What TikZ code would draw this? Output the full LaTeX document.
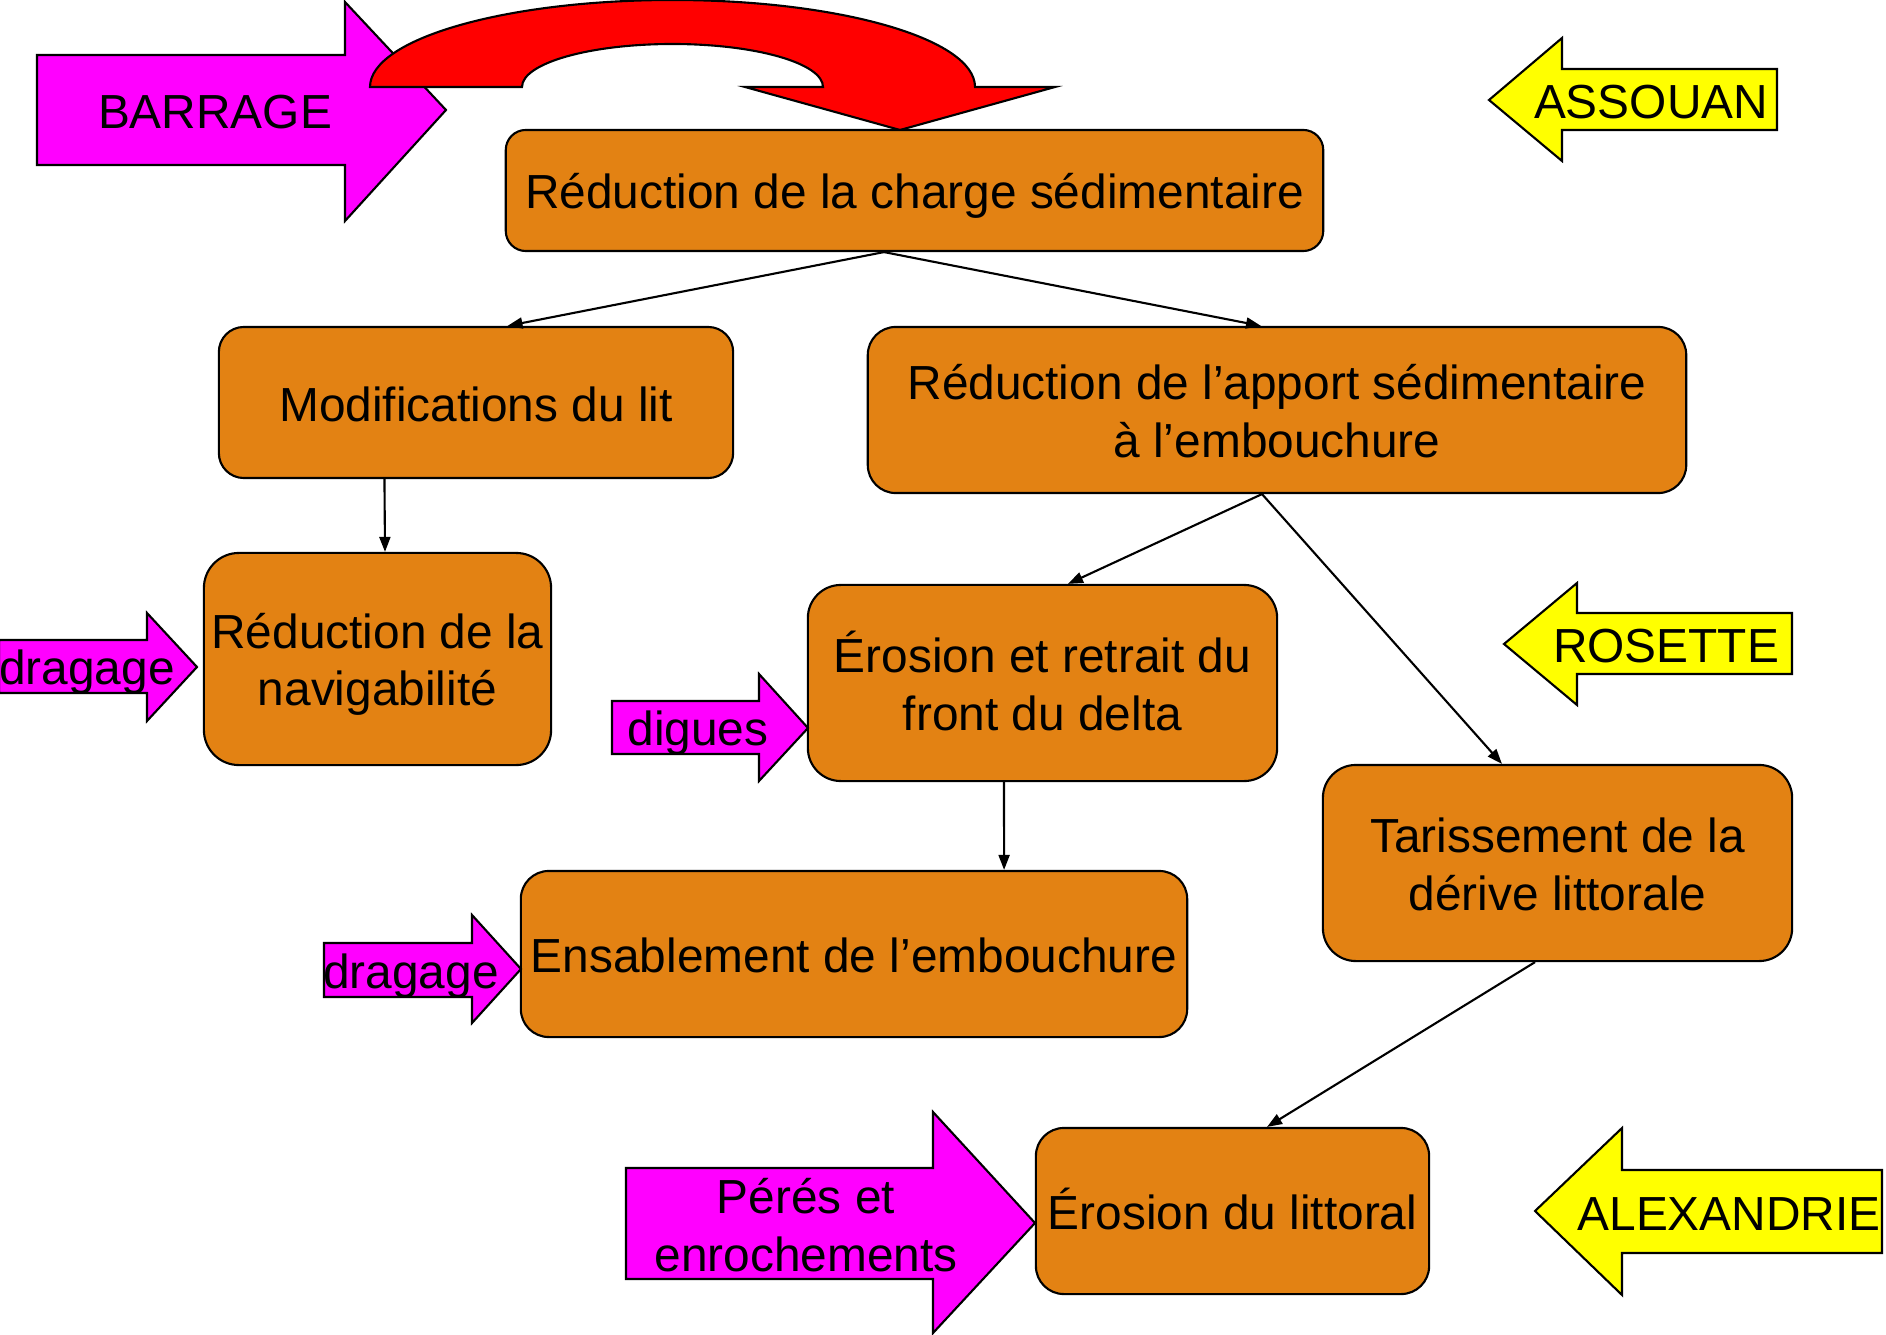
\documentclass[tikz,border=0pt]{standalone}
\usepackage{fontspec}
\setmainfont{Liberation Sans}
\usetikzlibrary{arrows.meta}

\definecolor{orangeboite}{RGB}{227,130,19}
\definecolor{rose}{RGB}{255,0,255}
\definecolor{jaune}{RGB}{255,255,0}
\newcommand{\haut}{\rule[-0.18em]{0pt}{1.14em}}

\tikzstyle{etape} = [draw=black, fill=orangeboite, line width=0.6pt,
    align=center, inner sep=0pt, font=\fontsize{13.6}{16.4}\selectfont]
\tikzstyle{etiquette} = [inner sep=0pt, align=center, font=\fontsize{13.6}{16.4}\selectfont]
\tikzstyle{fleche} = [draw=black, fill=rose, line width=0.6pt]
\tikzstyle{ville} = [draw=black, fill=jaune, line width=0.6pt]
\tikzstyle{lien} = [-{Triangle[length=1.5mm,width=1.1mm]}, line width=0.6pt]

\begin{document}
\begin{tikzpicture}[x=0.01cm, y=-0.01cm]
\useasboundingbox (0,0) rectangle (1886,1334);

\draw[fleche] (37,55) -- (345,55) -- (345,2) -- (446,110) -- (345,221) -- (345,165) -- (37,165) -- cycle;
\node[etiquette] (barrage) at (215,110) {\haut BARRAGE};
\draw[draw=black, fill=red, line width=0.6pt] (370,87)
    arc[start angle=180, end angle=360, x radius=302.5, y radius=87]
    -- (1055,87) -- (900,130) -- (745,87) -- (823,87)
    arc[start angle=360, end angle=180, x radius=150.5, y radius=43] -- cycle;

\node[etape, minimum width=8.17cm, minimum height=1.21cm, rounded corners=0.2cm] (charge) at (914.5,190.5)
    {\haut Réduction de la charge sédimentaire};
\node[etape, minimum width=5.14cm, minimum height=1.51cm, rounded corners=0.25cm] (lit) at (476,402.5)
    {\haut Modifications du lit};
\node[etape, minimum width=8.18cm, minimum height=1.66cm, rounded corners=0.28cm] (apport) at (1277,410)
    {\haut Réduction de l’apport sédimentaire\\ à l’embouchure\haut};
\node[etape, minimum width=3.47cm, minimum height=2.12cm, rounded corners=0.35cm] (navig) at (377.5,659)
    {\haut Réduction de la\\ navigabilité\haut};
\node[etape, minimum width=4.69cm, minimum height=1.96cm, rounded corners=0.33cm] (delta) at (1042.5,683)
    {\haut Érosion et retrait du\\ front du delta\haut};
\node[etape, minimum width=6.66cm, minimum height=1.66cm, rounded corners=0.28cm] (ensabl) at (854,954)
    {\haut Ensablement de l’embouchure};
\node[etape, minimum width=4.69cm, minimum height=1.96cm, rounded corners=0.33cm] (taris) at (1557.5,863)
    {\haut Tarissement de la\\ dérive littorale\haut};
\node[etape, minimum width=3.93cm, minimum height=1.66cm, rounded corners=0.28cm] (littoral) at (1232.5,1211)
    {\haut Érosion du littoral};

\draw[lien] ([xshift=-0.305cm]charge.south) -- ([xshift=0.315cm]lit.north);
\draw[lien] ([xshift=-0.305cm]charge.south) -- ([xshift=-0.16cm]apport.north);
\draw[lien] ([xshift=-0.915cm]lit.south) -- ([xshift=0.075cm]navig.north);
\draw[lien] ([xshift=-0.15cm]apport.south) -- ([xshift=0.255cm]delta.north);
\draw[lien] ([xshift=-0.15cm]apport.south) -- ([xshift=-0.555cm]taris.north);
\draw[lien] ([xshift=-0.385cm]delta.south) -- ([xshift=1.5cm]ensabl.north);
\draw[lien] ([xshift=-0.225cm]taris.south) -- ([xshift=0.345cm]littoral.north);

\draw[fleche] (-1,640) -- (147,640) -- (147,613) -- (197,667) -- (147,721) -- (147,693) -- (-1,693) -- cycle;
\node[etiquette] (dragageA) at (87,666.5) {\haut dragage};
\draw[fleche] (612,701) -- (759,701) -- (759,674) -- (808,728) -- (759,781) -- (759,754) -- (612,754) -- cycle;
\node[etiquette] (digues) at (698,727.5) {\haut digues};
\draw[fleche] (324,943) -- (472,943) -- (472,915) -- (521,969) -- (472,1023) -- (472,997) -- (324,997) -- cycle;
\node[etiquette] (dragageB) at (411,970) {\haut dragage};
\draw[fleche] (626,1168) -- (933,1168) -- (933,1112) -- (1035,1223) -- (933,1333) -- (933,1279) -- (626,1279) -- cycle;
\node[etiquette] (perres) at (806,1223.5) {\haut Pérés et\\ enrochements\haut};

\draw[ville] (1489,100) -- (1562,38) -- (1562,69) -- (1777,69) -- (1777,130) -- (1562,130) -- (1562,161) -- cycle;
\node[etiquette] (assouan) at (1651,99.5) {\haut ASSOUAN};
\draw[ville] (1504,644) -- (1577,583) -- (1577,613) -- (1792,613) -- (1792,674) -- (1577,674) -- (1577,705) -- cycle;
\node[etiquette] (rosette) at (1666,643.5) {\haut ROSETTE};
\draw[ville] (1535,1211) -- (1622,1128) -- (1622,1170) -- (1882,1170) -- (1882,1253) -- (1622,1253) -- (1622,1295) -- cycle;
\node[etiquette] (alexandrie) at (1729,1211.5) {\haut ALEXANDRIE};
\end{tikzpicture}
\end{document}
